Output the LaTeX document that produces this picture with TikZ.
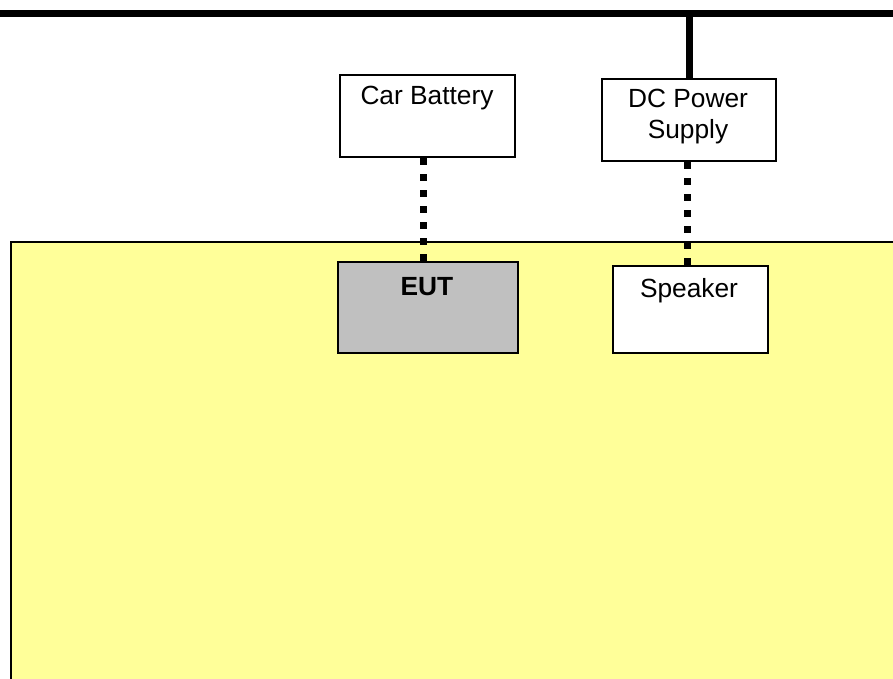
\documentclass[tikz,border=0pt]{standalone}
\usepackage{fontspec}
\setmainfont{Liberation Sans}
\begin{document}
\begin{tikzpicture}[x=1pt,y=-1pt,
  box/.style={draw=black,line width=2pt,fill=white,inner sep=0pt,anchor=north west},
  lbl/.style={font=\fontsize{26.3}{31}\selectfont,align=center,inner sep=0pt},
  dotline/.style={line width=7pt,dash pattern=on 7pt off 9pt},
  bus/.style={line width=7pt}]
\useasboundingbox (0,0) rectangle (893,678);
\clip (0,0) rectangle (893,678);
\fill[white] (0,0) rectangle (893,678);
\draw[line width=2pt,fill={rgb,255:red,255;green,255;blue,153}] (11,242) rectangle (905,690);
\coordinate (busL) at (0,13);
\coordinate (busR) at (893,13);
\draw[bus] (busL) -- (busR);
\node[box,minimum width=175pt,minimum height=82pt] (bat) at (339,74) {};
\node[box,minimum width=174pt,minimum height=82pt] (dc) at (601,78) {};
\node[box,fill={rgb,255:red,192;green,192;blue,192},minimum width=180pt,minimum height=91pt] (eut) at (337,261) {};
\node[box,minimum width=155pt,minimum height=87pt] (spk) at (612,265) {};
\node[lbl] (batt) at (427,98) {Car Battery};
\node[lbl] (dct) at (688,117) {DC Power\\Supply};
\node[lbl,font=\fontsize{26.3}{31}\selectfont\bfseries] (eutt) at (427,287) {EUT};
\node[lbl] (spkt) at (689,291) {Speaker};
\coordinate (busT) at (dc.north |- busL);
\draw[bus] (busT) -- (dc.north);
\draw[dotline] (bat.south -| 423,0) -- (eut.north -| 423,0);
\draw[dotline] (dc.south -| 687,0) -- (spk.north -| 687,0);
\end{tikzpicture}
\end{document}
